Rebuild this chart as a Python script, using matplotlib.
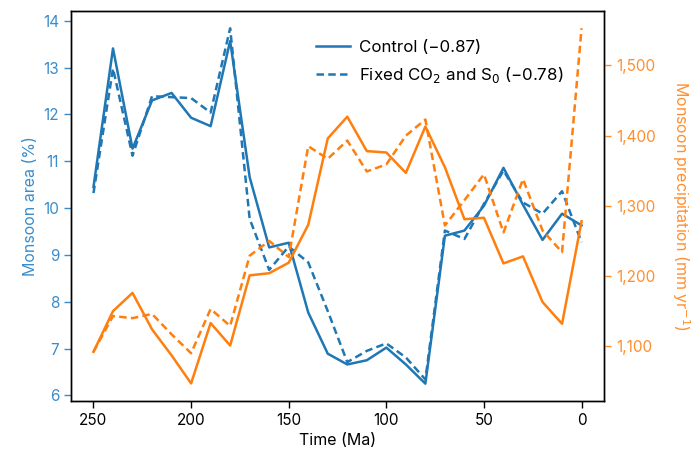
import matplotlib.pyplot as plt

# Time (Ma), every 10 Myr from 250 to 0
time = [250, 240, 230, 220, 210, 200, 190, 180, 170, 160, 150, 140, 130,
        120, 110, 100, 90, 80, 70, 60, 50, 40, 30, 20, 10, 0]

# monsoon area (%)
area_control = [10.45, 13.41, 11.27, 12.30, 12.46, 11.93, 11.75, 13.57, 10.66,
                9.16, 9.26, 7.77, 6.89, 6.66, 6.75, 7.02, 6.66, 6.25, 9.41,
                9.52, 10.05, 10.86, 10.07, 9.32, 9.88, 9.63]
area_fixed = [10.32, 12.98, 11.12, 12.39, 12.37, 12.35, 12.04, 13.84, 9.77,
              8.68, 9.18, 8.84, 7.80, 6.71, 6.95, 7.11, 6.81, 6.34, 9.52,
              9.34, 10.09, 10.80, 10.12, 9.88, 10.36, 9.27]

# monsoon precipitation (mm/yr)
precip_control = [1092, 1150, 1176, 1124, 1087, 1047, 1133, 1101, 1201, 1204,
                  1219, 1273, 1396, 1427, 1378, 1376, 1347, 1413, 1355, 1281,
                  1283, 1218, 1228, 1163, 1132, 1278]
precip_fixed = [1092, 1143, 1140, 1146, 1117, 1090, 1153, 1129, 1229, 1250,
                1227, 1385, 1367, 1393, 1349, 1359, 1400, 1423, 1272, 1308,
                1345, 1262, 1338, 1265, 1234, 1553]

blue = '#1f77b4'
orange = '#ff7f0e'
blue_txt = '#3a8dcc'
orange_txt = '#ff8f2e'
dash = (0, (3, 1.7))

plt.rcParams['font.family'] = ['Inter', 'DejaVu Sans']

fig = plt.figure(figsize=(6.97, 4.58), dpi=100)
ax = fig.add_axes([0.1019, 0.1245, 0.7647, 0.8515])
ax2 = ax.twinx()

l1, = ax.plot(time, area_control, color=blue, lw=1.8, label='Control (\u22120.87)')
l2, = ax.plot(time, area_fixed, color=blue, lw=1.8, ls=dash,
              label='Fixed CO$_2$ and S$_0$ (\u22120.78)')
ax2.plot(time, precip_control, color=orange, lw=1.8)
ax2.plot(time, precip_fixed, color=orange, lw=1.8, ls=dash)

ax.set_xlim(261.5, -11.5)
ax.set_ylim(5.88, 14.21)
ax2.set_ylim(1022, 1577.6)

ax.set_xticks([250, 200, 150, 100, 50, 0])
ax.set_yticks(range(6, 15))
ax2.set_yticks([1100, 1200, 1300, 1400, 1500])
ax2.set_yticklabels(['1,100', '1,200', '1,300', '1,400', '1,500'])

ax.tick_params(axis='x', labelsize=11, length=5, width=1)
ax.tick_params(axis='y', labelsize=11, length=5, width=1, colors=blue_txt)
ax2.tick_params(axis='y', labelsize=11, length=5, width=1, colors=orange_txt)

ax.set_xlabel('Time (Ma)', fontsize=11.5)
ax.set_ylabel('Monsoon area (%)', fontsize=11.5, color=blue_txt)
ax2.set_ylabel('Monsoon precipitation (mm yr$^{-1}$)', fontsize=11.5,
               color=orange_txt, rotation=270, labelpad=26)

for a in (ax, ax2):
    for s in a.spines.values():
        s.set_color('black')
        s.set_linewidth(1)

ax.legend(handles=[l1, l2], loc='upper left', bbox_to_anchor=(0.46, 0.925),
          frameon=False, fontsize=12.2, handlelength=2.0, handletextpad=0.5,
          borderpad=0, borderaxespad=0, labelspacing=0.6)

fig.savefig('out.png', dpi=100)
